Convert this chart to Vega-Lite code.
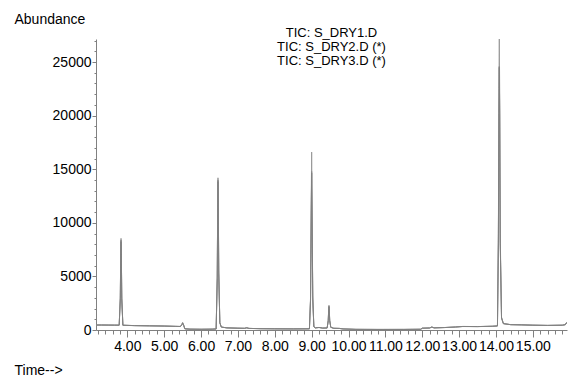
{
  "$schema": "https://vega.github.io/schema/vega-lite/v6.json",
  "width": 471,
  "height": 291,
  "autosize": "none",
  "padding": {"left": 96, "top": 39, "right": 1, "bottom": 46},
  "background": "white",
  "config": {"view": {"stroke": null}, "font": "Liberation Sans"},
  "title": {
    "text": ["TIC: S_DRY1.D", "TIC: S_DRY2.D (*)", "TIC: S_DRY3.D (*)"],
    "fontSize": 13,
    "fontWeight": "normal",
    "font": "Liberation Sans",
    "color": "black",
    "anchor": "middle",
    "frame": "group",
    "lineHeight": 14,
    "baseline": "top",
    "offset": 0,
    "dy": 56
  },
  "data": {
    "values": [
      {"time": 3.152, "S_DRY1": 470, "S_DRY2": 460, "S_DRY3": 465},
      {"time": 3.3, "S_DRY1": 465, "S_DRY2": 455, "S_DRY3": 470},
      {"time": 3.5, "S_DRY1": 460, "S_DRY2": 455, "S_DRY3": 460},
      {"time": 3.65, "S_DRY1": 455, "S_DRY2": 450, "S_DRY3": 455},
      {"time": 3.78, "S_DRY1": 455, "S_DRY2": 450, "S_DRY3": 450},
      {"time": 3.81, "S_DRY1": 3000, "S_DRY2": 2950, "S_DRY3": 2900},
      {"time": 3.822, "S_DRY1": 7300, "S_DRY2": 7150, "S_DRY3": 7000},
      {"time": 3.83, "S_DRY1": 8550, "S_DRY2": 8400, "S_DRY3": 8250},
      {"time": 3.838, "S_DRY1": 7300, "S_DRY2": 7150, "S_DRY3": 7000},
      {"time": 3.85, "S_DRY1": 3000, "S_DRY2": 2950, "S_DRY3": 2900},
      {"time": 3.88, "S_DRY1": 450, "S_DRY2": 440, "S_DRY3": 445},
      {"time": 4.2, "S_DRY1": 410, "S_DRY2": 405, "S_DRY3": 410},
      {"time": 4.6, "S_DRY1": 390, "S_DRY2": 385, "S_DRY3": 390},
      {"time": 5.0, "S_DRY1": 370, "S_DRY2": 365, "S_DRY3": 370},
      {"time": 5.3, "S_DRY1": 340, "S_DRY2": 335, "S_DRY3": 345},
      {"time": 5.44, "S_DRY1": 330, "S_DRY2": 325, "S_DRY3": 330},
      {"time": 5.48, "S_DRY1": 520, "S_DRY2": 500, "S_DRY3": 490},
      {"time": 5.5, "S_DRY1": 700, "S_DRY2": 680, "S_DRY3": 650},
      {"time": 5.53, "S_DRY1": 450, "S_DRY2": 430, "S_DRY3": 420},
      {"time": 5.56, "S_DRY1": 120, "S_DRY2": 110, "S_DRY3": 115},
      {"time": 5.7, "S_DRY1": 80, "S_DRY2": 75, "S_DRY3": 80},
      {"time": 6.0, "S_DRY1": 70, "S_DRY2": 65, "S_DRY3": 70},
      {"time": 6.3, "S_DRY1": 80, "S_DRY2": 75, "S_DRY3": 80},
      {"time": 6.41, "S_DRY1": 100, "S_DRY2": 95, "S_DRY3": 100},
      {"time": 6.44, "S_DRY1": 5000, "S_DRY2": 4900, "S_DRY3": 4800},
      {"time": 6.452, "S_DRY1": 12200, "S_DRY2": 12000, "S_DRY3": 11900},
      {"time": 6.46, "S_DRY1": 14200, "S_DRY2": 14000, "S_DRY3": 13850},
      {"time": 6.468, "S_DRY1": 12300, "S_DRY2": 12100, "S_DRY3": 11950},
      {"time": 6.48, "S_DRY1": 5500, "S_DRY2": 5400, "S_DRY3": 5300},
      {"time": 6.51, "S_DRY1": 700, "S_DRY2": 680, "S_DRY3": 660},
      {"time": 6.55, "S_DRY1": 280, "S_DRY2": 270, "S_DRY3": 275},
      {"time": 6.7, "S_DRY1": 200, "S_DRY2": 195, "S_DRY3": 200},
      {"time": 7.0, "S_DRY1": 170, "S_DRY2": 165, "S_DRY3": 170},
      {"time": 7.18, "S_DRY1": 160, "S_DRY2": 160, "S_DRY3": 155},
      {"time": 7.24, "S_DRY1": 210, "S_DRY2": 200, "S_DRY3": 205},
      {"time": 7.3, "S_DRY1": 150, "S_DRY2": 150, "S_DRY3": 150},
      {"time": 7.6, "S_DRY1": 125, "S_DRY2": 120, "S_DRY3": 125},
      {"time": 8.0, "S_DRY1": 110, "S_DRY2": 110, "S_DRY3": 110},
      {"time": 8.5, "S_DRY1": 100, "S_DRY2": 100, "S_DRY3": 105},
      {"time": 8.94, "S_DRY1": 110, "S_DRY2": 110, "S_DRY3": 110},
      {"time": 8.97, "S_DRY1": 3000, "S_DRY2": 2800, "S_DRY3": 2750},
      {"time": 8.99, "S_DRY1": 12500, "S_DRY2": 11200, "S_DRY3": 11000},
      {"time": 9.0, "S_DRY1": 16600, "S_DRY2": 14800, "S_DRY3": 14650},
      {"time": 9.01, "S_DRY1": 12500, "S_DRY2": 11200, "S_DRY3": 11000},
      {"time": 9.03, "S_DRY1": 3200, "S_DRY2": 3000, "S_DRY3": 2900},
      {"time": 9.06, "S_DRY1": 320, "S_DRY2": 310, "S_DRY3": 300},
      {"time": 9.1, "S_DRY1": 200, "S_DRY2": 195, "S_DRY3": 200},
      {"time": 9.2, "S_DRY1": 240, "S_DRY2": 230, "S_DRY3": 235},
      {"time": 9.3, "S_DRY1": 180, "S_DRY2": 175, "S_DRY3": 180},
      {"time": 9.42, "S_DRY1": 190, "S_DRY2": 185, "S_DRY3": 190},
      {"time": 9.45, "S_DRY1": 900, "S_DRY2": 880, "S_DRY3": 850},
      {"time": 9.463, "S_DRY1": 2000, "S_DRY2": 1950, "S_DRY3": 1870},
      {"time": 9.47, "S_DRY1": 2300, "S_DRY2": 2250, "S_DRY3": 2150},
      {"time": 9.477, "S_DRY1": 2000, "S_DRY2": 1950, "S_DRY3": 1870},
      {"time": 9.49, "S_DRY1": 900, "S_DRY2": 880, "S_DRY3": 850},
      {"time": 9.52, "S_DRY1": 250, "S_DRY2": 245, "S_DRY3": 250},
      {"time": 9.6, "S_DRY1": 160, "S_DRY2": 160, "S_DRY3": 160},
      {"time": 9.75, "S_DRY1": 150, "S_DRY2": 145, "S_DRY3": 150},
      {"time": 9.85, "S_DRY1": 100, "S_DRY2": 100, "S_DRY3": 100},
      {"time": 10.2, "S_DRY1": 60, "S_DRY2": 60, "S_DRY3": 60},
      {"time": 10.8, "S_DRY1": 50, "S_DRY2": 50, "S_DRY3": 55},
      {"time": 11.5, "S_DRY1": 55, "S_DRY2": 55, "S_DRY3": 55},
      {"time": 11.96, "S_DRY1": 70, "S_DRY2": 70, "S_DRY3": 70},
      {"time": 12.0, "S_DRY1": 170, "S_DRY2": 165, "S_DRY3": 170},
      {"time": 12.2, "S_DRY1": 190, "S_DRY2": 185, "S_DRY3": 190},
      {"time": 12.26, "S_DRY1": 280, "S_DRY2": 270, "S_DRY3": 275},
      {"time": 12.32, "S_DRY1": 200, "S_DRY2": 195, "S_DRY3": 200},
      {"time": 12.6, "S_DRY1": 230, "S_DRY2": 225, "S_DRY3": 230},
      {"time": 12.9, "S_DRY1": 280, "S_DRY2": 275, "S_DRY3": 280},
      {"time": 13.1, "S_DRY1": 330, "S_DRY2": 325, "S_DRY3": 330},
      {"time": 13.5, "S_DRY1": 320, "S_DRY2": 315, "S_DRY3": 320},
      {"time": 13.9, "S_DRY1": 350, "S_DRY2": 345, "S_DRY3": 350},
      {"time": 14.04, "S_DRY1": 380, "S_DRY2": 375, "S_DRY3": 380},
      {"time": 14.065, "S_DRY1": 9000, "S_DRY2": 8200, "S_DRY3": 8100},
      {"time": 14.08, "S_DRY1": 22500, "S_DRY2": 20300, "S_DRY3": 20200},
      {"time": 14.09, "S_DRY1": 27150, "S_DRY2": 24600, "S_DRY3": 24500},
      {"time": 14.1, "S_DRY1": 22500, "S_DRY2": 20300, "S_DRY3": 20200},
      {"time": 14.115, "S_DRY1": 9000, "S_DRY2": 8200, "S_DRY3": 8100},
      {"time": 14.15, "S_DRY1": 1200, "S_DRY2": 1150, "S_DRY3": 1100},
      {"time": 14.2, "S_DRY1": 600, "S_DRY2": 590, "S_DRY3": 595},
      {"time": 14.4, "S_DRY1": 500, "S_DRY2": 495, "S_DRY3": 500},
      {"time": 14.7, "S_DRY1": 480, "S_DRY2": 475, "S_DRY3": 480},
      {"time": 15.0, "S_DRY1": 450, "S_DRY2": 450, "S_DRY3": 450},
      {"time": 15.4, "S_DRY1": 430, "S_DRY2": 425, "S_DRY3": 430},
      {"time": 15.8, "S_DRY1": 450, "S_DRY2": 445, "S_DRY3": 450},
      {"time": 15.88, "S_DRY1": 500, "S_DRY2": 495, "S_DRY3": 500},
      {"time": 15.905, "S_DRY1": 650, "S_DRY2": 640, "S_DRY3": 645},
      {"time": 15.926, "S_DRY1": 700, "S_DRY2": 690, "S_DRY3": 695}
    ]
  },
  "transform": [
    {"fold": ["S_DRY1", "S_DRY2", "S_DRY3"], "as": ["series", "abundance"]}
  ],
  "mark": {"type": "line", "strokeWidth": 1, "clip": true},
  "encoding": {
    "x": {
      "field": "time",
      "type": "quantitative",
      "scale": {"domain": [3.151, 15.926], "nice": false, "zero": false},
      "axis": {
        "values": [3.2, 3.4, 3.6, 3.8, 4, 4.2, 4.4, 4.6, 4.8, 5, 5.2, 5.4, 5.6, 5.8, 6, 6.2, 6.4, 6.6, 6.8, 7, 7.2, 7.4, 7.6, 7.8, 8, 8.2, 8.4, 8.6, 8.8, 9, 9.2, 9.4, 9.6, 9.8, 10, 10.2, 10.4, 10.6, 10.8, 11, 11.2, 11.4, 11.6, 11.8, 12, 12.2, 12.4, 12.6, 12.8, 13, 13.2, 13.4, 13.6, 13.8, 14, 14.2, 14.4, 14.6, 14.8, 15, 15.2, 15.4, 15.6, 15.8],
        "labelExpr": "abs(datum.value - round(datum.value)) < 0.001 ? format(datum.value, '.2f') : ''",
        "tickSize": {"condition": {"test": "abs(datum.value - round(datum.value)) < 0.001", "value": 7}, "value": 4},
        "labelFontSize": 14,
        "labelFont": "Liberation Sans",
        "labelColor": "black",
        "labelPadding": 2,
        "labelOverlap": false,
        "labelFlush": false,
        "labelBound": false,
        "grid": false,
        "domainColor": "#808080",
        "tickColor": "#808080",
        "title": "Time-->",
        "titleFont": "Liberation Sans",
        "titleFontSize": 14,
        "titleFontWeight": "normal",
        "titleColor": "black",
        "titleX": -82,
        "titleY": 40,
        "titleAlign": "left",
        "titleBaseline": "middle"
      }
    },
    "y": {
      "field": "abundance",
      "type": "quantitative",
      "scale": {"domain": [0, 27150], "nice": false},
      "axis": {
        "values": [0, 1000, 2000, 3000, 4000, 5000, 6000, 7000, 8000, 9000, 10000, 11000, 12000, 13000, 14000, 15000, 16000, 17000, 18000, 19000, 20000, 21000, 22000, 23000, 24000, 25000, 26000, 27000],
        "labelExpr": "datum.value % 5000 === 0 ? format(datum.value, 'd') : ''",
        "tickSize": {"condition": {"test": "datum.value % 5000 === 0", "value": 4}, "value": 2},
        "labelFontSize": 14,
        "labelFont": "Liberation Sans",
        "labelColor": "black",
        "labelPadding": 1,
        "labelOverlap": false,
        "labelBound": false,
        "labelFlush": false,
        "grid": false,
        "domainColor": "#808080",
        "tickColor": "#808080",
        "title": "Abundance",
        "titleFont": "Liberation Sans",
        "titleFontSize": 14,
        "titleFontWeight": "normal",
        "titleColor": "black",
        "titleAngle": 0,
        "titleX": -82,
        "titleY": -20,
        "titleAlign": "left",
        "titleBaseline": "middle"
      }
    },
    "color": {
      "field": "series",
      "type": "nominal",
      "scale": {"domain": ["S_DRY1", "S_DRY2", "S_DRY3"], "range": ["#9a9a9a", "#8a8a8a", "#808080"]},
      "legend": null
    }
  }
}
